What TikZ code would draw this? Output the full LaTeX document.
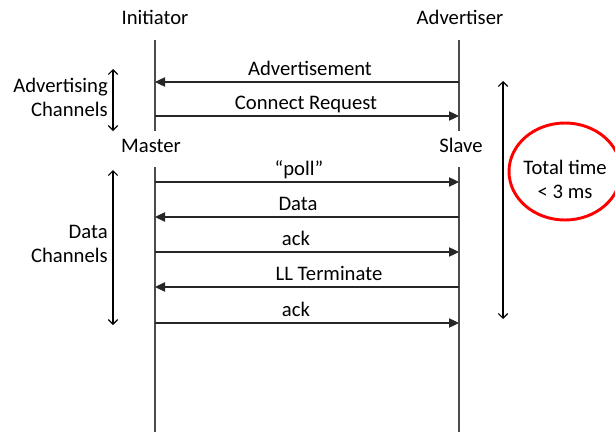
\documentclass[tikz,border=0pt]{standalone}
\usepackage{fontspec}
\setmainfont{Carlito}
\usetikzlibrary{arrows.meta}

\tikzset{
	lifeline/.style={draw=black!70, line width=1.1pt},
	msg/.style={draw=black!85, line width=0.9pt, -{Triangle[length=7.5pt,width=7pt]}},
	span/.style={draw=black, line width=0.9pt, {Straight Barb[length=3.5pt,width=7pt]}-{Straight Barb[length=3.5pt,width=7pt]}},
	ring/.style={draw=red, line width=2.2pt},
	lbl/.style={font=\fontsize{15.5}{18}\selectfont, inner sep=0pt},
}

\begin{document}
\begin{tikzpicture}[x=0.75pt, y=-0.75pt]
			\useasboundingbox (0,0) rectangle (615,432);
			% roles
			\node[lbl, anchor=base] (init) at (155,25) {Initiator};
			\node[lbl, anchor=base] (adver) at (460,25) {Advertiser};
			\node[lbl, anchor=base] (master) at (151,152) {Master};
			\node[lbl, anchor=base] (slave) at (461,152) {Slave};
			% lifelines
			\coordinate (lt) at (155,40);  \coordinate (lm) at (155,131);
			\coordinate (rt) at (459,40);  \coordinate (rm) at (459,131);
			\coordinate (lb) at (155,167); \coordinate (lz) at (155,432);
			\coordinate (rb) at (459,167); \coordinate (rz) at (459,432);
			\draw[lifeline] (lt) -- (lm) (lb) -- (lz);
			\draw[lifeline] (rt) -- (rm) (rb) -- (rz);
			% messages to the right
			\foreach \y/\lx/\txt/\n in {116/306/Connect Request/conn, 182/299/“poll”/poll, 252/296/ack/ackA, 323/296/ack/ackB}
			{
				\coordinate (ml\n) at (155,\y);
				\coordinate (mr\n) at (459,\y);
				\draw[msg] (ml\n) -- (mr\n);
				\node[lbl, anchor=base] (t\n) at (\lx,\y-7) {\txt};
			}
			% messages to the left
			\foreach \y/\lx/\txt/\n in {82/310/Advertisement/adv, 217/298/Data/data, 287/329/LL Terminate/term}
			{
				\coordinate (ml\n) at (155,\y);
				\coordinate (mr\n) at (459,\y);
				\draw[msg] (mr\n) -- (ml\n);
				\node[lbl, anchor=base] (t\n) at (\lx,\y-7) {\txt};
			}
			% channel spans
			\coordinate (advtop) at (113,69);  \coordinate (advbot) at (113,131);
			\coordinate (dattop) at (113,170); \coordinate (datbot) at (113,325);
			\draw[span] (advtop) -- (advbot);
			\draw[span] (dattop) -- (datbot);
			\node[lbl, anchor=base east, align=right] (advch) at (108,116) {Advertising\\Channels};
			\node[lbl, anchor=base east, align=right] (datch) at (108,262) {Data\\Channels};
			% total time
			\coordinate (tottop) at (503,81); \coordinate (totbot) at (503,319);
			\draw[span] (tottop) -- (totbot);
			\draw[ring] (565,171.5) ellipse [x radius=56, y radius=48.5];
			\node[lbl, anchor=base, align=center] (total) at (565,198) {Total time\\< 3 ms};
		\end{tikzpicture}
\end{document}
